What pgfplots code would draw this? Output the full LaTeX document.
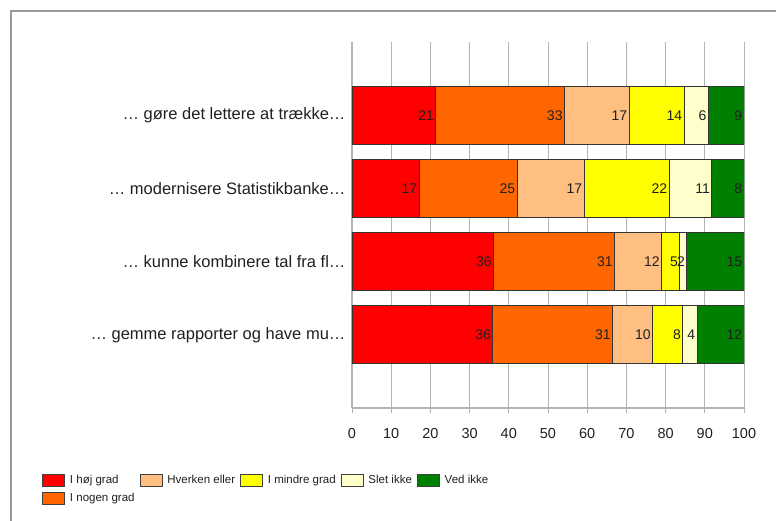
\documentclass[border=0pt]{standalone}
\usepackage{fontspec}
\setmainfont{Liberation Sans}
\usepackage{pgfplots}
\pgfplotsset{compat=1.18}

\definecolor{hoj}{HTML}{FF0000}
\definecolor{nogen}{HTML}{FF6600}
\definecolor{hverken}{HTML}{FFBF80}
\definecolor{mindre}{HTML}{FFFF00}
\definecolor{slet}{HTML}{FFFFCC}
\definecolor{vedikke}{HTML}{008000}
\definecolor{gridgray}{HTML}{B4B4B4}
\definecolor{txt}{HTML}{202020}

\begin{document}
\begin{tikzpicture}[x=1pt,y=1pt]
% page frame (top and left edges only, as in the screenshot)
\path[use as bounding box] (-352,-113) rectangle (424,408);
\draw[gray!80, line width=1.2pt] (-341,-113) -- (-341,397) -- (424,397);

\begin{axis}[
    at={(0,0)}, anchor=south west,
    scale only axis,
    width=392pt, height=366pt,
    xbar stacked,
    bar width=58pt,
    xmin=0, xmax=100,
    ymin=-1, ymax=4,
    xtick={0,10,...,100},
    ytick={0,1,2,3},
    yticklabels={
        … gemme rapporter og have mu…,
        … kunne kombinere tal fra fl…,
        … modernisere Statistikbanke…,
        … gøre det lettere at trække…},
    axis x line*=bottom,
    axis y line*=left,
    axis line style={gridgray, line width=1.5pt},
    x axis line style={-},
    y axis line style={-},
    xmajorgrids,
    major grid style={gridgray, line width=0.8pt},
    major tick length=5pt,
    xtick style={gridgray, line width=0.8pt},
    ytick style={draw=none},
    xtick align=outside,
    x tick label style={font=\fontsize{14.5}{16}\selectfont, text=txt, yshift=-12pt},
    y tick label style={font=\fontsize{16.5}{18}\selectfont, text=txt, xshift=-3pt},
    /pgf/number format/assume math mode=true,
    point meta=rawx,
    visualization depends on={rawx \as \segw},
    nodes near coords={\pgfmathprintnumber[fixed,precision=0]{\pgfplotspointmeta}},
    every node near coord/.append style={anchor=east, xshift={\segw*1.96pt},
        font=\fontsize{14}{16}\selectfont, text=txt, inner sep=1.5pt},
    legend columns=5,
    legend style={
        at={(-0.7908,-0.1776)}, anchor=north west,
        inner sep=0pt,
        draw=none, fill=none,
        font=\fontsize{11.5}{13}\selectfont,
        text=txt,
        row sep=4pt,
        cells={anchor=west},
        /tikz/every odd column/.append style={column sep=3pt},
        /tikz/every even column/.append style={column sep=3pt},
    },
    legend image code/.code={
        \draw[#1, draw=black!75, line width=0.8pt] (0pt,-6pt) rectangle (22pt,6pt);
    },
]
% legend, in the order it is laid out
\addlegendimage{fill=hoj}\addlegendentry{I høj grad}
\addlegendimage{fill=hverken}\addlegendentry{Hverken eller}
\addlegendimage{fill=mindre}\addlegendentry{I mindre grad}
\addlegendimage{fill=slet}\addlegendentry{Slet ikke}
\addlegendimage{fill=vedikke}\addlegendentry{Ved ikke}
\addlegendimage{fill=nogen}\addlegendentry{I nogen grad}

% rows: 3 = gore det lettere, 2 = modernisere, 1 = kunne kombinere, 0 = gemme
\addplot[fill=hoj, draw=black!80, line width=0.8pt] coordinates {
    (21.4,3) (17.1,2) (36.1,1) (35.9,0)};
\addplot[fill=nogen, draw=black!80, line width=0.8pt] coordinates {
    (32.8,3) (25.0,2) (30.9,1) (30.6,0)};
\addplot[fill=hverken, draw=black!80, line width=0.8pt] coordinates {
    (16.5,3) (17.1,2) (12.0,1) (10.2,0)};
\addplot[fill=mindre, draw=black!80, line width=0.8pt] coordinates {
    (14.0,3) (21.7,2) (4.6,1) (7.7,0)};
\addplot[fill=slet, draw=black!80, line width=0.8pt] coordinates {
    (6.2,3) (10.9,2) (1.8,1) (3.6,0)};
\addplot[fill=vedikke, draw=black!80, line width=0.8pt] coordinates {
    (9.1,3) (8.2,2) (14.6,1) (12.0,0)};
\end{axis}
\end{tikzpicture}
\end{document}
